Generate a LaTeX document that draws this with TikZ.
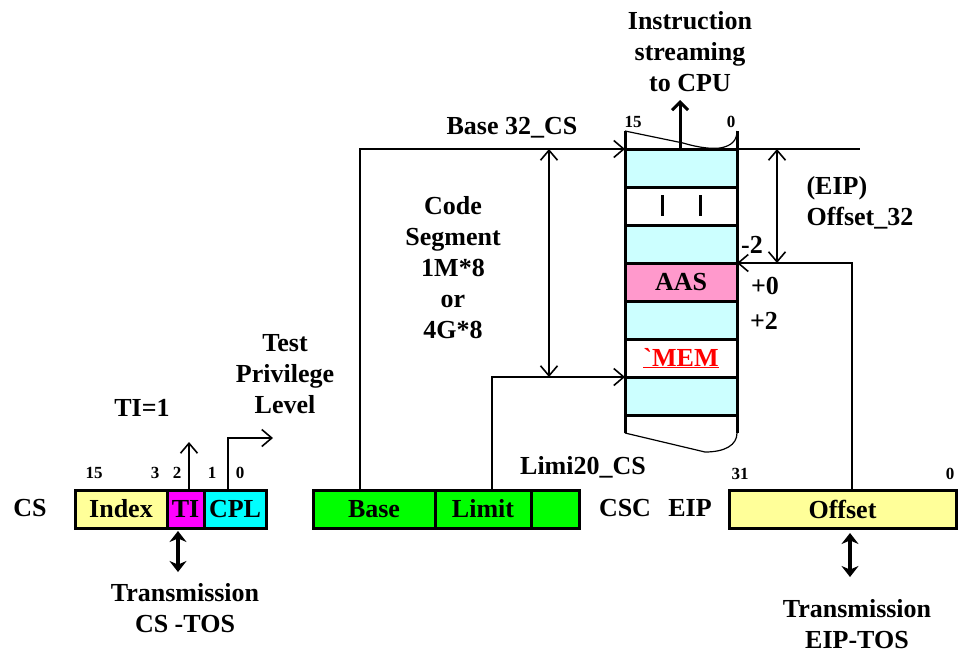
\documentclass[tikz,border=0pt]{standalone}
\usepackage{fontspec}
\setmainfont{Liberation Serif}
\usetikzlibrary{arrows.meta,positioning}
\definecolor{regyellow}{HTML}{FFFF99}
\definecolor{regmagenta}{HTML}{FF00FF}
\definecolor{regcyan}{HTML}{00FFFF}
\definecolor{reggreen}{HTML}{00FF00}
\definecolor{memcyan}{HTML}{CCFFFF}
\definecolor{mempink}{HTML}{FF99CC}
\definecolor{memred}{HTML}{FF0000}

\begin{document}
\begin{tikzpicture}[x=1pt,y=-1pt,font=\fontsize{26}{31}\selectfont\bfseries,
 >={Straight Barb[length=10pt,width=17pt]},
 field/.style={draw,line width=3pt,minimum height=38pt,inner sep=0pt,outer sep=0pt,anchor=north west},
 cell/.style={field,minimum width=112pt},
 bit/.style={font=\fontsize{17}{19}\selectfont\bfseries},
 txt/.style={align=center},
 line/.style={->,line width=1.6pt},
 dim/.style={<->,line width=1.6pt},
 outarr/.style={-{Straight Barb[length=8pt,width=16pt]},line width=3pt},
 tos/.style={{Stealth[length=11pt,width=17pt]}-{Stealth[length=11pt,width=17pt]},line width=4pt}]
\useasboundingbox (0,0) rectangle (960,654);

% code segment in memory
\foreach \i/\c/\t in {1/memcyan/,2/white/,3/memcyan/,4/mempink/AAS,5/memcyan/,6/white/{\color{memred}\underline{\textasciigrave MEM}},7/memcyan/}
  \node[cell,fill=\c] (m\i) at (625,{149+38*(\i-1)}) {\t};
\foreach \dx in {37,75} \draw[line width=3pt] ([xshift=\dx pt,yshift=-8pt]m2.north west) -- ++(0,21);
\draw[line width=3pt] (m1.north west) -- ++(0,-18) (m1.north east) -- ++(0,-18);
\draw[line width=1.2pt] ([yshift=18pt]m1.north west) -- (683,143) .. controls (700,148) and (712,149) .. (720,148)
  .. controls (732,146) and (737,140) .. ([yshift=18pt]m1.north east);
\draw[line width=3pt] (m7.south west) -- ++(0,18) (m7.south east) -- ++(0,18);
\draw[line width=1.2pt] ([yshift=-18pt]m7.south west) -- (705,452) .. controls (725,452) and (737,445) .. ([yshift=-18pt]m7.south east);
\node[bit] (m15) at (633,122) {15};
\node[bit] (m0) at (731,122) {0};
\node (mneg2) at (752,245) {-2};
\node (mpos0) at (765,286) {+0};
\node (mpos2) at (764,321) {+2};

\node[txt] (cpu) at (690,52) {Instruction\\streaming\\to CPU};
\coordinate (cpuout) at (680,100);
\draw[outarr] (m1.north -| cpuout) -- (cpuout);

% selector CS
\node (cs) at (30,508) {CS};
\node[field,fill=regyellow,minimum width=92pt] (index) at (75,490) {Index};
\node[field,fill=regmagenta,minimum width=37pt,right=0pt of index] (ti) {TI};
\node[field,fill=regcyan,minimum width=62pt,right=0pt of ti] (cpl) {CPL};
\foreach \b/\x in {15/94,3/155,2/177,1/212,0/240} \node[bit] (csbit\b) at (\x,473) {\b};
\node (tione) at (142,408) {TI=1};
\node[txt] (testpl) at (285,374) {Test\\Privilege\\Level};
\coordinate (tiout) at (189,442);
\coordinate (cplout) at (273,438);
\draw[line] (ti.north -| tiout) -- (tiout);
\draw[line] ([xshift=24pt]cpl.north west) |- (cplout);
\node[txt] (cstos) at (185,608) {Transmission\\CS -TOS};
\coordinate (tidown) at ([xshift=11pt]ti.south west);
\draw[tos] ([yshift=-3pt]tidown) -- ([yshift=-44pt]tidown);

% descriptor cache
\node[field,fill=reggreen,minimum width=122pt] (base) at (313,490) {Base};
\node[field,fill=reggreen,minimum width=96pt,right=0pt of base] (limit) {Limit};
\node[field,fill=reggreen,minimum width=48pt,right=0pt of limit] (cscfield) {};
\node (limi) at (583,467) {Limi20\_CS};
\node (csc) at (625,508) {CSC};
\node (base32) at (512,128) {Base 32\_CS};
\node[txt] (codeseg) at (453,268) {Code\\Segment\\1M*8\\or\\4G*8};
\draw[line] ([xshift=47pt]base.north west) |- (m1.north west);
\draw[line] ([xshift=57pt]limit.north west) |- (m7.north west);
\coordinate (segdim) at (549,0);
\draw[dim] (segdim |- m1.north) -- (segdim |- m7.north);

% EIP
\node (eip) at (690,508) {EIP};
\node[field,fill=regyellow,minimum width=227pt] (offset) at (729,490) {Offset};
\node[bit] (eip31) at (740,474) {31};
\node[bit] (eip0) at (950,474) {0};
\coordinate (eipref) at (860,149);
\draw[line width=1.6pt] (m1.north east) -- (eipref);
\coordinate (offdim) at (777,0);
\draw[dim] (offdim |- m1.north) -- (offdim |- m4.north);
\draw[line] ([xshift=123pt]offset.north west) |- (m4.north east);
\node[txt,align=left,anchor=west] (eipoff) at (803,203) {(EIP)\\Offset\_32};
\node[txt] (eiptos) at (857,624) {Transmission\\EIP-TOS};
\coordinate (offdown) at ([xshift=121pt]offset.south west);
\draw[tos] ([yshift=-5pt]offdown) -- ([yshift=-49pt]offdown);
\end{tikzpicture}
\end{document}
